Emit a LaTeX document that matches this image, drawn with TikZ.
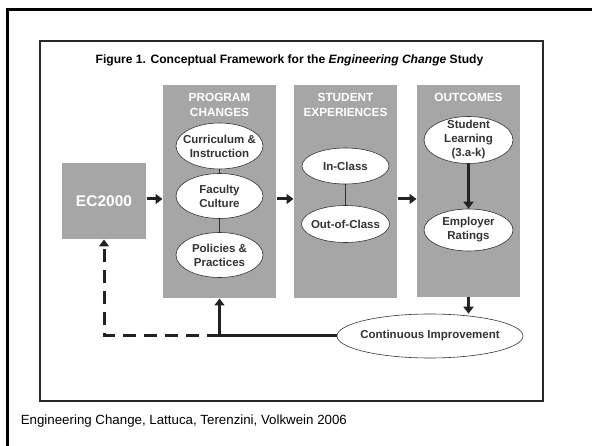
\documentclass[tikz,border=0pt]{standalone}
\usepackage{fontspec}
\setmainfont{Liberation Sans}
\definecolor{panelcolor}{HTML}{A6A6A6}
\definecolor{inkcolor}{HTML}{333333}
\definecolor{arrowcolor}{HTML}{222222}
\usetikzlibrary{%
        calc,
        math,
        shapes.geometric, % ellipse
        arrows.meta,
    }

\begin{document}
\begin{tikzpicture}[x=1pt, y=-1pt, line width=1pt]
    \tikzmath{%
        % rows
        \arrowY=199;
        \panelY=191.5;
        % panel sizes
        \panelH=213;
        \ovalW=87;
    };

    \tikzset{%
        panel/.style={fill=panelcolor, inner sep=0pt},
        heading/.style={text=white, align=center, inner sep=0pt,
                font=\bfseries\fontsize{11.8}{15}\selectfont},
        oval/.style={ellipse, draw=inkcolor, line width=0.6pt, fill=white, inner sep=-10pt,
                text=inkcolor, align=center, font=\bfseries\fontsize{11.5}{14}\selectfont},
        link/.style={draw=inkcolor, line width=0.8pt},
        flow/.style={draw=arrowcolor, line width=3pt, -{Triangle[length=7pt, width=10pt]}},
        loopback/.style={flow, dash pattern=on 13pt off 8pt},
    }

    \useasboundingbox (0, 0) rectangle (592, 446);

    % frames
    \draw [line width=3pt, line cap=rect] (7, 446) -- (7, 10) -- (592, 10);
    \draw [line width=1.2pt, color=inkcolor!80!black] (40, 41) rectangle (543, 401);

    % title
    \node (title) [font=\bfseries\fontsize{12.1}{14}\selectfont] at (289.5, 60)
    {Figure 1. Conceptual Framework for the \textit{Engineering Change} Study};

    % panels
    \node (ec) [panel, minimum width=84, minimum height=76, text=white,
        font=\bfseries\fontsize{15.5}{18}\selectfont] at (104, 201) {EC2000};
    \node (prog) [panel, minimum width=113, minimum height=\panelH] at (219.5, \panelY) {};
    \node (stud) [panel, minimum width=103, minimum height=\panelH] at (345.5, \panelY) {};
    \node (outc) [panel, minimum width=103, minimum height=212] at (468.5, 191) {};

    \node (progtitle) [heading] at ($ (prog.north) + (0, 20.5) $) {PROGRAM\\CHANGES};
    \node (studtitle) [heading] at ($ (stud.north) + (0, 20.5) $) {STUDENT\\EXPERIENCES};
    \node (outctitle) [heading] at ($ (outc.north) + (0, 13) $) {OUTCOMES};

    % ovals
    \node (cur) [oval, minimum width=\ovalW, minimum height=46] at (219.5, 146) {Curriculum \&\\Instruction};
    \node (fac) [oval, minimum width=\ovalW, minimum height=45] at (219.5, 196) {Faculty\\Culture};
    \node (pol) [oval, minimum width=\ovalW, minimum height=45] at (219.5, 255) {Policies \&\\Practices};
    \node (incl) [oval, minimum width=\ovalW, minimum height=36] at (345.5, 166) {In-Class};
    \node (outcl) [oval, minimum width=88, minimum height=37] at (345.5, 224) {Out-of-Class};
    \node (stl) [oval, minimum width=89, minimum height=47] at (468.5, 140) {Student\\Learning\\(3.a-k)};
    \node (emp) [oval, minimum width=89, minimum height=42] at (468.5, 230) {Employer\\Ratings};
    \node (ci) [oval, minimum width=186, minimum height=44] at (430, 336) {Continuous Improvement};

    % links
    \draw [link] (cur) -- (fac);
    \draw [link] (fac) -- (pol);
    \draw [link] (incl) -- (outcl);

    % flow
    \coordinate (arrowrow) at (0, \arrowY);
    \draw [flow] (ec.east |- arrowrow) -- (prog.west |- arrowrow);
    \draw [flow] (prog.east |- arrowrow) -- (stud.west |- arrowrow);
    \draw [flow] (stud.east |- arrowrow) -- (outc.west |- arrowrow);
    \draw [flow] (stl.south) -- (emp.north);
    \draw [flow] (outc.south) -- (outc.south |- ci.north);

    % feedback
    \draw [flow] (ci.west) -| (prog.south);
    \draw [loopback] (prog.south |- ci.west) -| (ec.south);

    % source
    \node (credit) [anchor=west, font=\fontsize{13.3}{15}\selectfont] at (17, 421)
    {Engineering Change, Lattuca, Terenzini, Volkwein 2006};
\end{tikzpicture}
\end{document}
